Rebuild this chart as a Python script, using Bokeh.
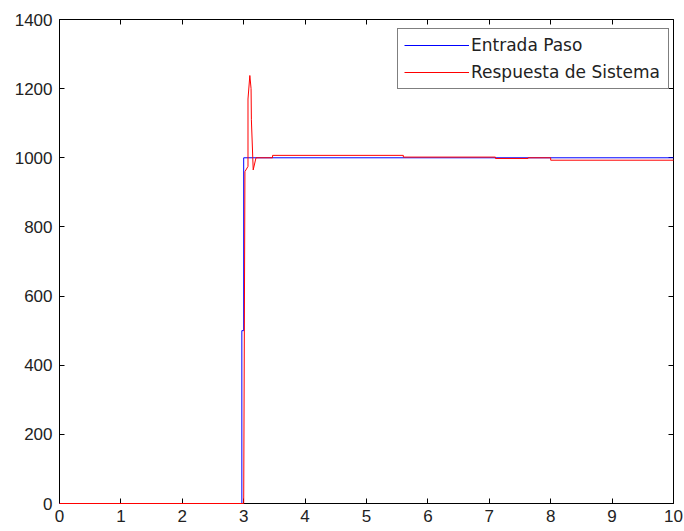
from bokeh.plotting import figure
from bokeh.models import LinearAxis, FixedTicker, Legend, LegendItem, Range1d
from bokeh.embed import file_html
from bokeh.resources import INLINE

# Data
step_t = [0, 2.97, 2.97, 3.0, 3.0, 10]
step_v = [0, 0, 500, 500, 1000, 1000]

resp_t = [0, 3.0, 3.02, 3.07, 3.07, 3.10, 3.12, 3.125, 3.155, 3.2, 3.47, 3.47, 5.6, 5.6,
          7.1, 7.1, 7.63, 7.63, 8.0, 8.0, 10]
resp_v = [0, 0, 960, 975, 1170, 1238, 1200, 1110, 965, 1000, 1000, 1007, 1007, 1002,
          1002, 998, 998, 1000, 1000, 993, 993]

x_ticks = [0, 1, 2, 3, 4, 5, 6, 7, 8, 9, 10]
y_ticks = [0, 200, 400, 600, 800, 1000, 1200, 1400]

legend_labels = ["Entrada Paso", "Respuesta de Sistema"]

FONT = "Liberation Sans"

p = figure(width=684, height=531, output_backend="svg", toolbar_location=None,
           x_range=Range1d(0, 10), y_range=Range1d(0, 1400),
           min_border_left=59, min_border_right=11, min_border_top=19,
           min_border_bottom=28, background_fill_color="white",
           border_fill_color="white")
p.xgrid.visible = False
p.ygrid.visible = False
p.outline_line_color = "black"
p.outline_line_width = 1
p.outline_line_alpha = 1

for ax, ticks in ((p.xaxis[0], x_ticks), (p.yaxis[0], y_ticks)):
    ax.ticker = FixedTicker(ticks=ticks)
    ax.major_tick_in = 5
    ax.major_tick_out = 0
    ax.minor_tick_line_color = None
    ax.axis_line_color = "black"
    ax.major_tick_line_color = "black"
    ax.major_label_text_font = FONT
    ax.major_label_text_font_size = "17px"
    ax.major_label_text_color = "#222222"
p.xaxis.major_label_standoff = 6
p.yaxis.major_label_standoff = 7

top = LinearAxis(ticker=FixedTicker(ticks=x_ticks), major_tick_in=5, major_tick_out=0,
                 minor_tick_line_color=None, axis_line_color=None,
                 major_label_overrides={t: "" for t in x_ticks},
                 major_label_standoff=0)
right = LinearAxis(ticker=FixedTicker(ticks=y_ticks), major_tick_in=5, major_tick_out=0,
                   minor_tick_line_color=None, axis_line_color=None,
                   major_label_overrides={t: "" for t in y_ticks},
                   major_label_standoff=0)
p.add_layout(top, "above")
p.add_layout(right, "right")

r1 = p.line(step_t, step_v, line_color="#0000ff", line_width=1, level="overlay")
r2 = p.line(resp_t, resp_v, line_color="#ff0000", line_width=1, level="overlay")

legend = Legend(items=[LegendItem(label=legend_labels[0], renderers=[r1]),
                       LegendItem(label=legend_labels[1], renderers=[r2])],
                location=(338, 414), glyph_width=65, glyph_height=20,
                label_standoff=2, spacing=7, padding=6, margin=0,
                label_width=191,
                label_text_font="DejaVu Sans", label_text_font_size="17px",
                label_text_color="#222222",
                border_line_color="black", border_line_width=1,
                background_fill_color="white", background_fill_alpha=1)
p.add_layout(legend, "center")

open("out.html", "w").write(file_html(p, INLINE))
